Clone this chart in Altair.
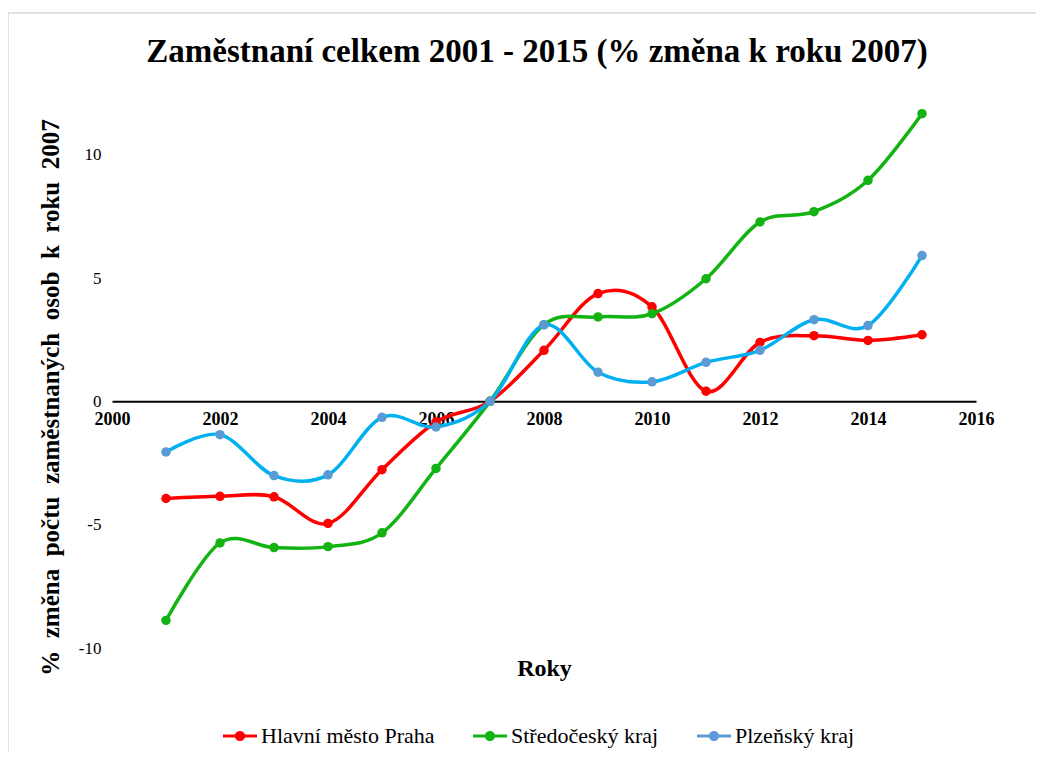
import altair as alt
import pandas as pd

years = list(range(2001, 2016))
praha = [-3.94, -3.85, -3.87, -4.95, -2.77, -0.84, 0.0, 2.07, 4.37, 3.83, 0.41, 2.39, 2.66, 2.47, 2.70]
stredocesky = [-8.88, -5.74, -5.93, -5.89, -5.33, -2.72, 0.0, 3.11, 3.42, 3.55, 4.97, 7.27, 7.69, 8.96, 11.66]
plzensky = [-2.05, -1.35, -3.01, -2.98, -0.65, -1.04, 0.0, 3.10, 1.18, 0.79, 1.58, 2.07, 3.31, 3.07, 5.91]
series = ["Hlavní město Praha", "Středočeský kraj", "Plzeňský kraj"]
line_colors = ["#FF0000", "#12B312", "#00B0F0"]
marker_colors = ["#FF0000", "#12B312", "#5B9BD5"]
x_ticks = list(range(2000, 2017, 2))
y_ticks = [-10, -5, 0, 5, 10]

title_text = "Zaměstnaní celkem 2001 - 2015 (% změna k roku 2007)"
y_title = "\u00a0\u00a0".join(["%", "změna", "počtu", "zaměstnaných", "osob", "k", "roku", "2007"])
x_title = "Roky"

rows = []
for name, vals in zip(series, [praha, stredocesky, plzensky]):
    for yr, v in zip(years, vals):
        rows.append({"rok": yr, "hodnota": v, "serie": name, "linie": name})
df = pd.DataFrame(rows)

FONT = "Liberation Serif"
W, H = 864, 555

x_enc = alt.X(
    "rok:Q",
    scale=alt.Scale(domain=[2000, 2016], nice=False, zero=False),
    axis=alt.Axis(
        values=x_ticks, format="d", title=x_title, offset=-246.7,
        domainColor="#000000", domainWidth=2, ticks=False, grid=False,
        labelFont=FONT, labelFontWeight="bold", labelFontSize=18, labelColor="#000000",
        labelPadding=9, labelFlush=False, labelOverlap=False,
        titleFont=FONT, titleFontWeight="bold", titleFontSize=24, titleColor="#000000",
        titleY=267, titleBaseline="middle",
    ),
)
y_enc = alt.Y(
    "hodnota:Q",
    scale=alt.Scale(domain=[-10, 12.5], nice=False, zero=False),
    axis=alt.Axis(
        values=y_ticks, domain=False, ticks=False, grid=False,
        labelExpr="replace(datum.label, '\u2212', '-')",
        labelFont=FONT, labelFontSize=17, labelColor="#000000", labelPadding=11,
        labelOverlap=False, labelFlush=False,
        title=y_title, titleFont=FONT, titleFontWeight="bold", titleFontSize=25,
        titleColor="#000000", titleX=-62, titleY=304, titleBaseline="middle", titleAngle=-90,
    ),
)

lines = alt.Chart(df).mark_line(interpolate="cardinal", tension=0, strokeWidth=3.5).encode(
    x=x_enc, y=y_enc,
    stroke=alt.Stroke("linie:N", scale=alt.Scale(domain=series, range=line_colors), legend=None),
)

legend_path = ("M-1,-0.09H1V0.09H-1Z "
               "M0.3,0A0.3,0.3 0 1,1 -0.3,0A0.3,0.3 0 1,1 0.3,0Z")

points = alt.Chart(df).mark_point(filled=True, size=90, opacity=1).encode(
    x=x_enc, y=y_enc,
    fill=alt.Fill(
        "serie:N",
        scale=alt.Scale(domain=series, range=marker_colors),
        legend=alt.Legend(
            orient="none", legendX=111, legendY=626, direction="horizontal", title=None,
            symbolType=legend_path, symbolSize=1156, symbolStrokeWidth=0, symbolOpacity=1,
            labelFont=FONT, labelFontSize=22, labelColor="#000000", labelOffset=4,
            columnPadding=38, labelLimit=400,
        ),
    ),
)

border = alt.Chart(pd.DataFrame({"b": [0]})).mark_rect(
    fillOpacity=0, stroke="#D9D9D9", strokeWidth=1.5
).encode(x=alt.value(-104), x2=alt.value(1200), y=alt.value(-80), y2=alt.value(900))

chart = alt.layer(border, lines, points).properties(
    width=W, height=H,
    title=alt.TitleParams(
        text=title_text, font=FONT, fontSize=33, fontWeight="bold", color="#000000",
        anchor="middle", frame="group", offset=0, dy=57, dx=-7,
    ),
    autosize=alt.AutoSizeParams(type="none"),
    padding={"left": 104, "top": 85, "right": 60, "bottom": 104},
).resolve_legend(fill="independent", stroke="independent").configure_view(stroke=None)

chart.save("out.html", embed_options={"renderer": "svg", "actions": False})
